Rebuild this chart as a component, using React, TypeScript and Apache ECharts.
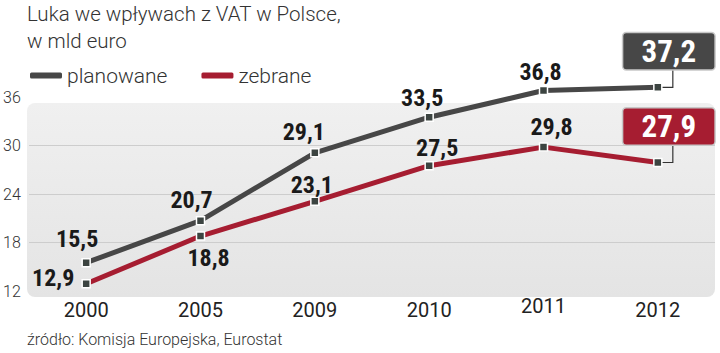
import React, { useEffect, useRef } from "react";
import * as echarts from "echarts";

const years = ["2000", "2005", "2009", "2010", "2011", "2012"];
const planned = [15.5, 20.7, 29.1, 33.5, 36.8, 37.2];
const collected = [12.9, 18.8, 23.1, 27.5, 29.8, 27.9];
const seriesNames = ["planowane", "zebrane"];
const yMin = 12;
const yMax = 36;
const yStep = 6;
const titleText = "Luka we wpływach z VAT w Polsce,\nw mld euro";
const sourceText = "źródło: Komisja Europejska, Eurostat";

// label placement (style, not data)
const plannedOffsets = [[-9, -24], [-9, -21], [-11, -21], [-7, -19], [-3, -19], [11, -36]];
const collectedOffsets = [[-33, -6], [8, 22], [-3, -16], [8, -18], [8, -20], [11, -36]];

const GRAY = "#474747";
const RED = "#a61d31";
const BOLD_FONT = "'Roboto Condensed', 'Liberation Sans Narrow', 'DejaVu Sans Condensed', Roboto, sans-serif";
const LIGHT_FONT = "Roboto, 'Noto Sans', sans-serif";

const fmt = (v: number) => v.toFixed(1).replace(".", ",");

function buildData(values: number[], offsets: number[][], boxColor: string) {
  const last = values.length - 1;
  return values.map((v, i) => {
    if (i === last) {
      return {
        value: v,
        label: {
          offset: offsets[i],
          color: "#fff",
          fontSize: 31,
          fontWeight: "bold",
          backgroundColor: boxColor,
          borderColor: "#c8c8c8",
          borderWidth: 1.5,
          borderRadius: 3,
          padding: [3, 8],
          width: 75,
          height: 30,
          lineHeight: 30,
          align: "center",
          verticalAlign: "middle",
        },
      };
    }
    return { value: v, label: { offset: offsets[i] } };
  });
}

export default function App() {
  const ref = useRef<HTMLDivElement>(null);
  useEffect(() => {
    document.body.style.margin = "0";
    if (!ref.current) return;
    const chart = echarts.init(ref.current, undefined, { renderer: "svg" });
    const lineSeries = (name: string, values: number[], offsets: number[][], color: string) => ({
      name,
      type: "line",
      data: buildData(values, offsets, color),
      clip: false,
      symbol: "rect",
      symbolSize: 8,
      lineStyle: { color, width: 5 },
      itemStyle: { color: "#3c4441", borderColor: "#ffffff", borderWidth: 1.5 },
      label: {
        show: true,
        position: "inside",
        fontFamily: BOLD_FONT,
        fontSize: 24,
        fontWeight: "bold",
        color: "#1a1a1a",
        formatter: (p: any) => fmt(p.value),
      },
      z: 3,
    });
    const bg = {
      type: "rect",
      id: "bg",
      z: -1,
      shape: { x: 27, y: 103, width: 688, height: 194, r: 8 },
      style: {
        fill: new echarts.graphic.LinearGradient(0, 0, 0, 1, [
          { offset: 0, color: "#f0f0f0" },
          { offset: 1, color: "#e4e4e4" },
        ]),
      },
    };
    const source = {
      type: "text",
      id: "source",
      x: 27,
      y: 339,
      style: {
        text: sourceText,
        fontSize: 16,
        fontWeight: 300,
        fontFamily: LIGHT_FONT,
        fill: "#333",
        verticalAlign: "middle",
      },
    };
    chart.setOption({
      animation: false,
      backgroundColor: "#ffffff",
      textStyle: { fontFamily: LIGHT_FONT },
      title: {
        text: titleText,
        left: 27,
        top: 0,
        padding: 0,
        textStyle: {
          fontSize: 20.5,
          fontWeight: 300,
          lineHeight: 27,
          color: "#333",
          fontFamily: LIGHT_FONT,
        },
      },
      legend: {
        left: 30,
        top: 65,
        padding: 0,
        icon: "roundRect",
        itemWidth: 32,
        itemHeight: 6,
        itemGap: 34,
        textStyle: { fontSize: 21, fontWeight: 300, color: "#333", fontFamily: LIGHT_FONT },
        data: [
          { name: seriesNames[0], itemStyle: { color: GRAY, borderWidth: 0 } },
          { name: seriesNames[1], itemStyle: { color: RED, borderWidth: 0 } },
        ],
      },
      grid: { left: 26, right: 5, top: 97, bottom: 62 },
      xAxis: {
        type: "category",
        data: years,
        boundaryGap: true,
        axisLine: { show: false },
        axisTick: { show: false },
        axisLabel: {
          fontSize: 20,
          color: "#222",
          margin: 9,
          fontFamily: LIGHT_FONT,
          formatter: (v: string) => (v === "2011" ? `{up|${v}}` : v),
          rich: { up: { fontSize: 20, color: "#222", lineHeight: 12, fontFamily: LIGHT_FONT } },
        },
      },
      yAxis: {
        type: "value",
        min: yMin,
        max: yMax,
        interval: yStep,
        axisLine: { show: false },
        axisTick: { show: false },
        axisLabel: {
          align: "left",
          margin: 26,
          fontSize: 16,
          fontWeight: 300,
          color: "#333",
          fontFamily: LIGHT_FONT,
        },
        splitLine: {
          show: true,
          showMinLine: false,
          showMaxLine: false,
          lineStyle: { color: "#cdcdcd", width: 1 },
        },
      },
      graphic: [bg, source],
      series: [
        lineSeries(seriesNames[0], planned, plannedOffsets, GRAY),
        lineSeries(seriesNames[1], collected, collectedOffsets, RED),
      ],
    });

    const last = years.length - 1;
    const connectors = [planned[last], collected[last]].map((v, si) => {
      const p = chart.convertToPixel({ seriesIndex: si }, [last, v]) as number[];
      return {
        type: "polyline",
        id: "conn" + si,
        z: 1,
        shape: {
          points: [
            [p[0] + 4, p[1]],
            [p[0] + 15, p[1]],
            [p[0] + 15, p[1] - 18],
          ],
        },
        style: { stroke: "#333", lineWidth: 1.2, fill: null },
      };
    });
    chart.setOption({ graphic: [bg, source, ...connectors] });

    return () => chart.dispose();
  }, []);
  return <div ref={ref} style={{ width: 720, height: 353 }} />;
}
